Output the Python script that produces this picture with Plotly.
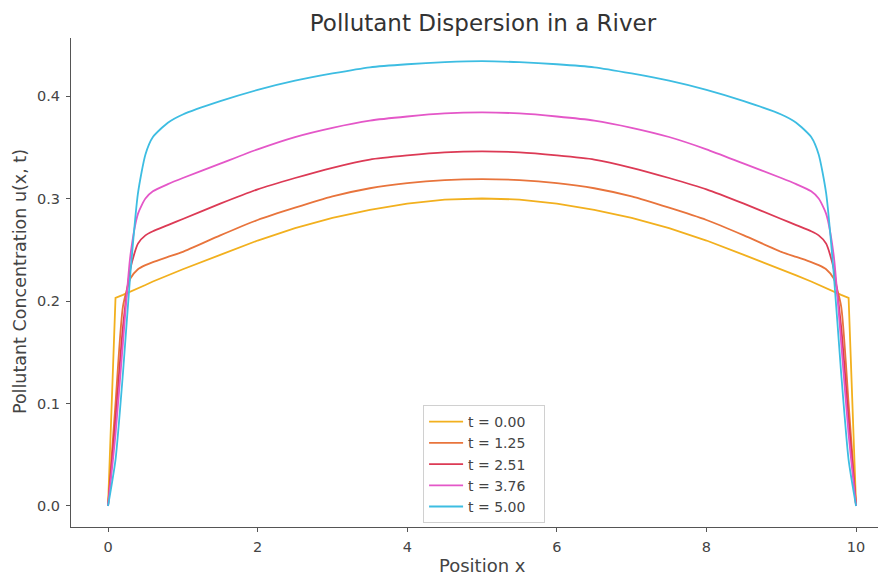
import plotly.graph_objects as go

# Position along the river
x = [0, 0.1, 0.2, 0.3, 0.4, 0.5, 0.6, 0.8, 1.0, 1.5, 2.0, 2.5, 3.0, 3.5, 4.0, 4.5, 5.0,
     5.5, 6.0, 6.5, 7.0, 7.5, 8.0, 8.5, 9.0, 9.2, 9.4, 9.5, 9.6, 9.7, 9.8, 9.9, 10.0]

u_t000 = [0, 0.203, 0.206, 0.209, 0.2126, 0.2156, 0.219, 0.225, 0.231, 0.245, 0.259, 0.271, 0.281, 0.289, 0.295, 0.299, 0.300,
          0.299, 0.295, 0.289, 0.281, 0.271, 0.259, 0.245, 0.231, 0.225, 0.219, 0.2156, 0.2126, 0.209, 0.206, 0.203, 0]
u_t125 = [0, 0.100, 0.195, 0.222, 0.231, 0.235, 0.238, 0.243, 0.248, 0.264, 0.279, 0.291, 0.302, 0.310, 0.315, 0.318, 0.319,
          0.318, 0.315, 0.310, 0.302, 0.291, 0.279, 0.264, 0.248, 0.243, 0.238, 0.235, 0.231, 0.222, 0.195, 0.100, 0]
u_t251 = [0, 0.085, 0.175, 0.232, 0.256, 0.264, 0.268, 0.274, 0.280, 0.295, 0.309, 0.320, 0.330, 0.338, 0.342, 0.345, 0.346,
          0.345, 0.342, 0.338, 0.330, 0.320, 0.309, 0.295, 0.280, 0.274, 0.268, 0.264, 0.256, 0.232, 0.175, 0.085, 0]
u_t376 = [0, 0.070, 0.160, 0.245, 0.285, 0.300, 0.307, 0.314, 0.320, 0.334, 0.348, 0.360, 0.369, 0.376, 0.380, 0.383, 0.384,
          0.383, 0.380, 0.376, 0.369, 0.360, 0.348, 0.334, 0.320, 0.314, 0.307, 0.300, 0.285, 0.245, 0.160, 0.070, 0]
u_t500 = [0, 0.045, 0.130, 0.228, 0.305, 0.343, 0.360, 0.374, 0.382, 0.395, 0.406, 0.415, 0.422, 0.428, 0.431, 0.433, 0.434,
          0.433, 0.431, 0.428, 0.422, 0.415, 0.406, 0.395, 0.382, 0.374, 0.360, 0.343, 0.305, 0.228, 0.130, 0.045, 0]

series_names = ["t = 0.00", "t = 1.25", "t = 2.51", "t = 3.76", "t = 5.00"]
series_values = [u_t000, u_t125, u_t251, u_t376, u_t500]
colors = ["#F2B01E", "#E8743C", "#DC3A55", "#E457C8", "#3DBDE2"]
shapes = ["linear", "spline", "spline", "spline", "spline"]

# The page body has an 8px margin, so the figure is sized to fill the rest of the window.
W, H = 878, 569
L, R, T, B = 63, 0, 30, 50
plot_w = W - L - R
plot_h = H - T - B

fig = go.Figure()
for name, vals, c, s in zip(series_names, series_values, colors, shapes):
    line = dict(color=c, width=1.8, shape=s)
    if s == "spline":
        line["smoothing"] = 0.6
    fig.add_trace(go.Scatter(x=x, y=vals, mode="lines", name=name + "\u00a0\u00a0\u00a0", line=line))

fig.update_layout(
    width=W, height=H,
    margin=dict(l=L, r=R, t=T, b=B, autoexpand=False),
    paper_bgcolor="white", plot_bgcolor="white",
    font=dict(family="DejaVu Sans", size=14, color="#444444"),
    title=dict(text="Pollutant Dispersion in a River", x=0.5055, xref="paper",
               xanchor="center", y=1 - 15 / H, yref="container", yanchor="middle",
               font=dict(size=23, color="#333333")),
    showlegend=True,
    legend=dict(x=0.432, y=0.008, xanchor="left", yanchor="bottom",
                bgcolor="white", bordercolor="#D0D0D0", borderwidth=1,
                itemwidth=34,
                font=dict(size=14, color="#444444")),
    annotations=[
        dict(text="Position x", xref="paper", yref="paper", x=0.5055, y=-38 / plot_h,
             xanchor="center", yanchor="middle", showarrow=False,
             font=dict(size=18, color="#444444")),
        dict(text="Pollutant Concentration u(x, t)", xref="paper", yref="paper",
             x=-51 / plot_w, y=0.501, xanchor="center", yanchor="middle",
             textangle=-90, showarrow=False, font=dict(size=17.5, color="#444444")),
    ],
)
fig.update_xaxes(range=[-0.495, 10.40], tickvals=[0, 2, 4, 6, 8, 10], automargin=False,
                 showgrid=False, zeroline=False, showline=True, linecolor="#555555",
                 linewidth=1.2, ticks="outside", ticklen=4, tickcolor="#555555",
                 ticklabelstandoff=2, tickfont=dict(size=14.5))
fig.update_yaxes(range=[-0.0205, 0.4566], tickvals=[0.0, 0.1, 0.2, 0.3, 0.4],
                 tickformat=".1f", automargin=False,
                 showgrid=False, zeroline=False, showline=True, linecolor="#555555",
                 linewidth=1.2, ticks="outside", ticklen=4, tickcolor="#555555",
                 ticklabelstandoff=3, tickfont=dict(size=14.5))

fig.write_html("out.html")
